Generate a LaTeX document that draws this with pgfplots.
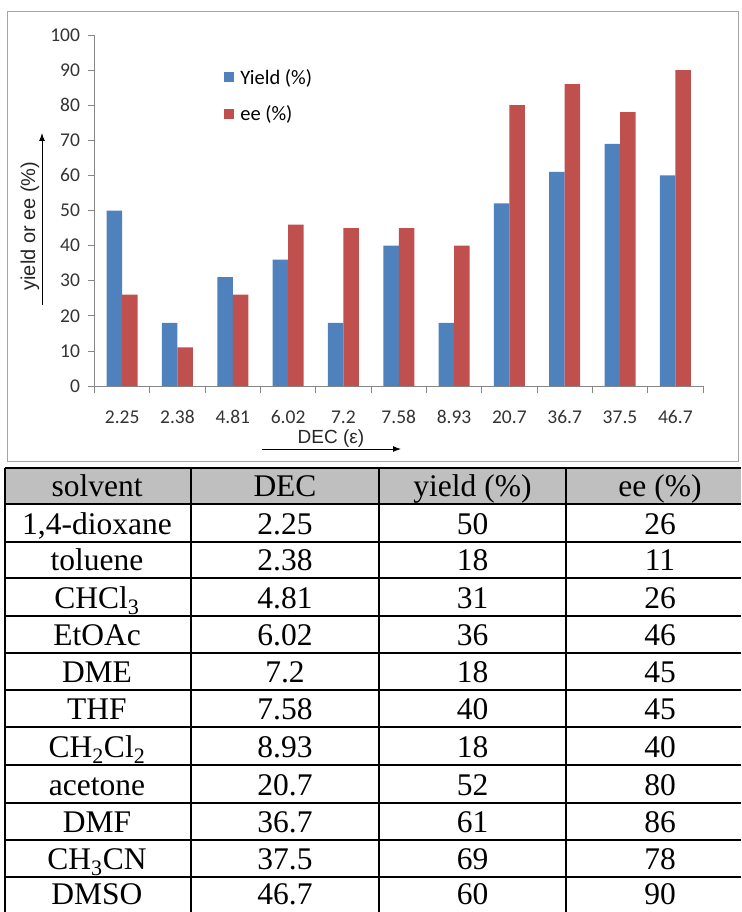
\documentclass[border=0pt]{standalone}
\usepackage{fontspec}
\setmainfont{Liberation Serif}
\newfontfamily\chartfont{Carlito}
\newfontfamily\arialfont{Liberation Sans}
\usepackage{pgfplots}
\pgfplotsset{compat=1.18}
\usetikzlibrary{arrows.meta}

\definecolor{barblue}{HTML}{4F81BD}
\definecolor{barred}{HTML}{C0504D}
\definecolor{axisgray}{HTML}{868686}
\definecolor{framegray}{HTML}{A6A6A6}
\definecolor{headgray}{HTML}{BFBFBF}

% one table row: baseline, solvent, DEC, yield, ee
\newcommand\trow[5]{%
  \node[anchor=base] at (97pt,-#1pt) {#2};
  \node[anchor=base] at (285pt,-#1pt) {#3};
  \node[anchor=base] at (472.5pt,-#1pt) {#4};
  \node[anchor=base] at (660pt,-#1pt) {#5};}

\begin{document}
\begin{tikzpicture}
\useasboundingbox (0,0) rectangle (741pt,-912pt);

% chart frame
\draw[framegray, line width=0.8pt] (7pt,-11pt) rectangle (738pt,-461pt);

\begin{axis}[
  at={(94.5pt,-386pt)}, anchor=south west,
  scale only axis, width=608.5pt, height=351pt,
  ybar=0pt, bar width=15.5pt,
  xmin=-0.5, xmax=10.5, ymin=0, ymax=100,
  axis x line=bottom, axis y line=left,
  axis line style={axisgray, line width=0.8pt, -},
  xtick={-0.5,0.5,...,10.5}, xticklabels={},
  extra x ticks={0,1,...,10},
  extra x tick labels={2.25,2.38,4.81,6.02,7.2,7.58,8.93,20.7,36.7,37.5,46.7},
  extra x tick style={major tick length=0pt},
  ytick={0,10,...,100},
  tick align=outside,
  major tick length=7pt,
  tick style={axisgray, line width=0.8pt},
  ticklabel style={font=\chartfont\fontsize{19.5}{19.5}\selectfont, text=black!80},
  xticklabel style={yshift=-21pt},
  yticklabel style={xshift=-4pt},
  /pgf/number format/assume math mode=true,
  legend style={at={(0.213,0.909)}, anchor=north west, draw=none, fill=none,
    inner sep=0pt, row sep=16pt,
    font=\chartfont\fontsize{20.5}{20.5}\selectfont},
  legend cell align=left,
]
\addplot[fill=barblue, draw=none,
  legend image code/.code={\fill[barblue] (0pt,-5pt) rectangle (10pt,5pt); \path (14pt,0pt);}]
  coordinates {(0,50)(1,18)(2,31)(3,36)(4,18)(5,40)(6,18)(7,52)(8,61)(9,69)(10,60)};
\addplot[fill=barred, draw=none,
  legend image code/.code={\fill[barred] (0pt,-5pt) rectangle (10pt,5pt); \path (14pt,0pt);}]
  coordinates {(0,26)(1,11)(2,26)(3,46)(4,45)(5,45)(6,40)(7,80)(8,86)(9,78)(10,90)};
\legend{Yield (\%), ee (\%)}
\end{axis}

% axis titles with arrows
\node[rotate=90, font=\arialfont\fontsize{20}{20}\selectfont, text=black!85] at (30pt,-226pt) {yield or ee (\%)};
\draw[line width=1pt, -{Latex[length=8pt,width=6pt]}] (42pt,-305pt) -- (42pt,-133pt);
\node[font=\arialfont\fontsize{19}{19}\selectfont, text=black!85] at (331pt,-439pt) {DEC (ε)};
\draw[line width=1pt, -{Latex[length=8pt,width=6pt]}] (262pt,-449pt) -- (401pt,-449pt);

% table
\fill[headgray] (5pt,-468pt) rectangle (741pt,-504pt);
\foreach \yy in {468,504,542,578,616,653,690,727,765,803,840,877}
  \draw[line width=1.5pt] (5pt,-\yy pt) -- (741pt,-\yy pt);
\foreach \xx in {5,191,379,566}
  \draw[line width=1.5pt] (\xx pt,-468pt) -- (\xx pt,-912pt);

\fontsize{31.5}{31.5}\selectfont
\trow{496}{solvent}{DEC}{yield (\%)}{ee (\%)}
\trow{534}{1,4-dioxane}{2.25}{50}{26}
\trow{570}{toluene}{2.38}{18}{11}
\trow{608}{CHCl\textsubscript{3}}{4.81}{31}{26}
\trow{645}{EtOAc}{6.02}{36}{46}
\trow{682}{DME}{7.2}{18}{45}
\trow{719}{THF}{7.58}{40}{45}
\trow{757}{CH\textsubscript{2}Cl\textsubscript{2}}{8.93}{18}{40}
\trow{795}{acetone}{20.7}{52}{80}
\trow{832}{DMF}{36.7}{61}{86}
\trow{869}{CH\textsubscript{3}CN}{37.5}{69}{78}
\trow{904}{DMSO}{46.7}{60}{90}
\end{tikzpicture}
\end{document}
